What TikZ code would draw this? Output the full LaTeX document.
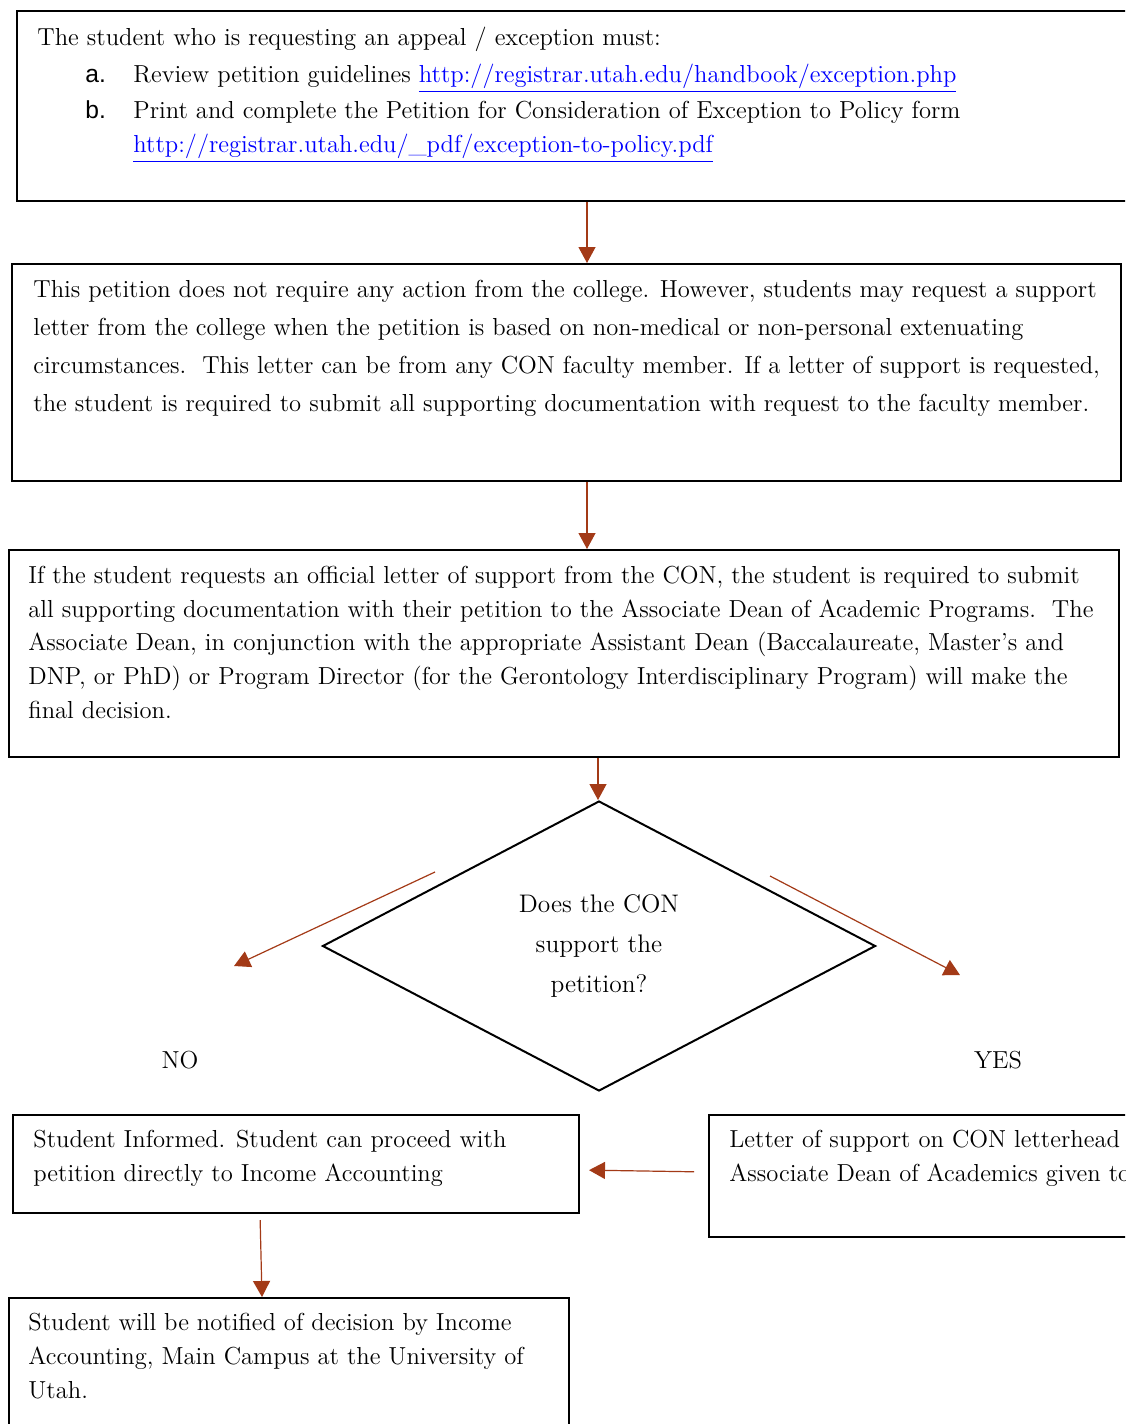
\documentclass[tikz,border=0pt]{standalone}
\usepackage{fontspec}
\usetikzlibrary{arrows.meta,positioning,shapes.geometric}

\newfontfamily\listfont{Liberation Sans}
\definecolor{arrowrust}{HTML}{A33A17}
\definecolor{linkblue}{HTML}{0000FF}
\newcommand{\weblink}[1]{\textcolor{linkblue}{\underline{#1}}}

\begin{document}
\begin{tikzpicture}[x=0.5pt,y=-0.5pt,
	box/.style={draw, line width=1pt, anchor=north west, inner sep=0pt},
	para/.style={anchor=north west, inner sep=0pt, align=left},
	line/.style={anchor=base west, inner sep=0pt},
	flow/.style={draw=arrowrust, line width=0.6pt, -{Triangle[length=8pt,width=8.5pt]}},
	font=\fontsize{12.3}{19}\selectfont]

	\useasboundingbox (0,0) rectangle (1125,1424);
	\clip (0,0) rectangle (1125,1424);

	% boxes
	\node [box, minimum width=557pt, minimum height=95pt] (steps) at (16,10) {};
	\node [box, minimum width=554.5pt, minimum height=108.5pt] (noaction) at (11,263) {};
	\node [box, minimum width=555pt, minimum height=103.5pt] (official) at (8,549) {};
	\node [draw, diamond, line width=1pt, inner sep=0pt, minimum width=276.5pt, minimum height=145pt,
		align=center, font=\fontsize{12.7}{20}\selectfont] (support) at (599,946)
		{Does the CON\\support the\\petition?};
	\node [box, minimum width=283pt, minimum height=49pt] (informed) at (12,1114) {};
	\node [box, minimum width=215pt, minimum height=61pt] (letter) at (708,1114) {};
	\node [box, minimum width=280pt, minimum height=70pt] (notified) at (8,1297) {};

	% texts
	\node [line] (steps0) at (37,45) {The student who is requesting an appeal / exception must:};
	\node [line] (stepsa) at (85,82) {{\listfont a.}};
	\node [line] (stepsa1) at (133,82) {Review petition guidelines \weblink{http://registrar.utah.edu/handbook/exception.php}};
	\node [line] (stepsb) at (85,118) {{\listfont b.}};
	\node [line] (stepsb1) at (133,118) {Print and complete the Petition for Consideration of Exception to Policy form};
	\node [line] (stepsb2) at (133,152) {\weblink{http://registrar.utah.edu/\_pdf/exception-to-policy.pdf}};

	\node [para, font=\fontsize{12.3}{19}\selectfont] (noaction1) at (33,280)
		{This petition does not require any action from the college. However, students may request a support\\
		letter from the college when the petition is based on non-medical or non-personal extenuating\\
		circumstances.\ \ This letter can be from any CON faculty member. If a letter of support is requested,\\
		the student is required to submit all supporting documentation with request to the faculty member.};

	\node [para, font=\fontsize{12.3}{16.8}\selectfont] (official1) at (28,566)
		{If the student requests an official letter of support from the CON, the student is required to submit\\
		all supporting documentation with their petition to the Associate Dean of Academic Programs.\ \ The\\
		Associate Dean, in conjunction with the appropriate Assistant Dean (Baccalaureate, Master’s and\\
		DNP, or PhD) or Program Director (for the Gerontology Interdisciplinary Program) will make the\\
		final decision.};

	\node [line, anchor=base] (no) at (180,1068) {NO};
	\node [line, anchor=base] (yes) at (998,1068) {YES};

	\node [para, font=\fontsize{12.3}{17}\selectfont] (informed1) at (33,1130)
		{Student Informed. Student can proceed with\\
		petition directly to Income Accounting};
	\node [para, font=\fontsize{12.3}{17}\selectfont] (letter1) at (729,1130)
		{Letter of support on CON letterhead\\
		Associate Dean of Academics given to};
	\node [para, font=\fontsize{12.3}{17}\selectfont] (notified1) at (28,1313)
		{Student will be notified of decision by Income\\
		Accounting, Main Campus at the University of\\
		Utah.};

	% connectors
	\coordinate (nofrom) at (435,872);
	\coordinate (noto) at (234,966);
	\coordinate (yesfrom) at (770,876);
	\coordinate (yesto) at (960,975);

	\draw [flow] (587,0 |- steps.south) -- (587,0 |- noaction.north);
	\draw [flow] (587,0 |- noaction.south) -- (587,0 |- official.north);
	\draw [flow] (598,0 |- official.south) -- (598,0 |- support.north);
	\draw [flow] (nofrom) -- (noto);
	\draw [flow] (yesfrom) -- (yesto);
	\draw [flow, shorten <=7pt, shorten >=4.5pt] ([yshift=2pt]letter.west) -- ([yshift=-3pt]informed.east);
	\draw [flow, shorten <=3pt] (260,0 |- informed.south) -- (262,0 |- notified.north);
\end{tikzpicture}
\end{document}
